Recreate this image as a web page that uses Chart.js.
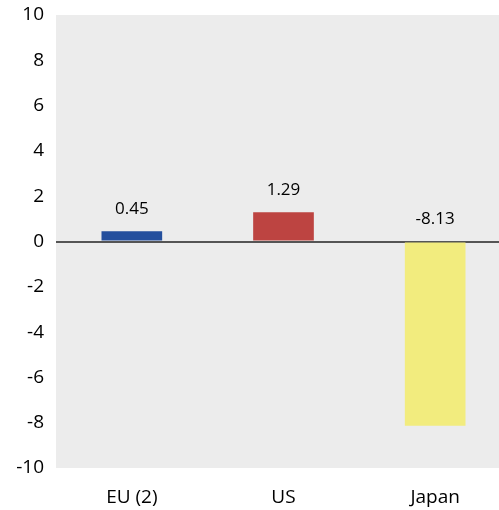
<!DOCTYPE html>
<html>
<head>
<meta charset="utf-8">
<script src="https://cdn.jsdelivr.net/npm/chart.js@4/dist/chart.umd.min.js"></script>
<style>
  html, body { margin: 0; padding: 0; overflow: hidden; background: #fff; }
  canvas { display: block; }
</style>
</head>
<body>
<canvas id="chart" width="511" height="510"></canvas>
<script>
const regions = ['EU (2)', 'US', 'Japan'];
const changes = [0.45, 1.29, -8.13];
const barColors = ['#244f9d', '#bd4441', '#f2ec7e'];
const yTicks = [10, 8, 6, 4, 2, 0, -2, -4, -6, -8, -10];

// grey plot background
const plotBackground = {
  id: 'plotBackground',
  beforeDraw(chart) {
    const { ctx, chartArea: a } = chart;
    ctx.save();
    ctx.fillStyle = '#ececec';
    ctx.fillRect(a.left, a.top, a.right - a.left, a.bottom - a.top);
    ctx.restore();
  }
};

// numbers above the bars (above the zero line for negatives)
const valueLabels = {
  id: 'valueLabels',
  afterDatasetsDraw(chart) {
    const { ctx, scales } = chart;
    const meta = chart.getDatasetMeta(0);
    ctx.save();
    ctx.font = '17px "Open Sans", sans-serif';
    ctx.fillStyle = '#000';
    ctx.textAlign = 'center';
    ctx.textBaseline = 'middle';
    meta.data.forEach((bar, i) => {
      const v = changes[i];
      const y = scales.y.getPixelForValue(Math.max(v, 0)) - 22;
      ctx.fillText(v.toFixed(2), bar.x, y);
    });
    ctx.restore();
  }
};

new Chart(document.getElementById('chart'), {
  type: 'bar',
  data: {
    labels: regions,
    datasets: [{
      data: changes,
      backgroundColor: barColors,
      borderWidth: 0,
      barPercentage: 0.4,
      categoryPercentage: 1
    }]
  },
  options: {
    responsive: false,
    animation: false,
    layout: { padding: { top: 15, right: 0, bottom: 0, left: 0 } },
    plugins: { legend: { display: false }, tooltip: { enabled: false } },
    scales: {
      x: {
        grid: { display: false, drawTicks: false },
        border: { display: false },
        ticks: { color: '#000', font: { family: 'Open Sans', size: 19 }, padding: 18 },
        afterFit(scale) { scale.height = 42; scale.paddingLeft = 0; scale.paddingRight = 0; }
      },
      y: {
        min: -10,
        max: 10,
        afterBuildTicks(scale) { scale.ticks = yTicks.map(v => ({ value: v })); },
        grid: {
          drawTicks: false,
          color: c => (c.tick && c.tick.value === 0 ? '#555' : 'transparent'),
          lineWidth: 2
        },
        border: { display: false },
        ticks: { color: '#000', font: { family: 'Open Sans', size: 19 }, padding: 12 },
        afterFit(scale) { scale.width = 56; scale.paddingTop = 0; scale.paddingBottom = 0; }
      }
    }
  },
  plugins: [plotBackground, valueLabels]
});
</script>
</body>
</html>
